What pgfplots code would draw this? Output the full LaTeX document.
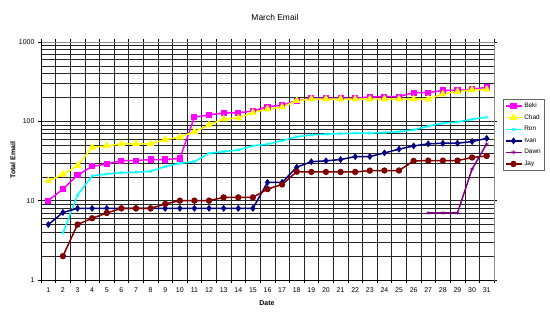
\documentclass[border=0pt]{standalone}
\usepackage{fontspec}
\setmainfont{Liberation Sans}
\usepackage{pgfplots}
\pgfplotsset{compat=1.18}
\definecolor{beki}{HTML}{FF00FF}
\definecolor{chad}{HTML}{FFFF00}
\definecolor{ron}{HTML}{00FFFF}
\definecolor{ivan}{HTML}{000080}
\definecolor{dawn}{HTML}{800080}
\definecolor{jay}{HTML}{800000}
\begin{document}
\begin{tikzpicture}
\path[use as bounding box] (0,0) rectangle (550bp,319bp);
\begin{axis}[
  at={(41bp,39bp)}, anchor=south west, scale only axis,
  width=453bp, height=238bp,
  ymode=log, ymin=1, ymax=1000, xmin=0.5, xmax=31.5,
  xtick={1,...,31},
  minor xtick={0.5,1.5,...,31.5},
  ytick={1,10,100,1000}, yticklabels={1,10,100,1000},
  minor ytick={2,3,4,5,6,7,8,9,20,30,40,50,60,70,80,90,200,300,400,500,600,700,800,900},
  xminorgrids=true, xmajorgrids=false,
  ymajorgrids=true, yminorgrids=true,
  grid style={black!85, line width=0.5bp},
  minor grid style={black!85, line width=0.5bp},
  major x tick style={draw=none},
  minor x tick style={black, line width=0.5bp},
  major y tick style={black, line width=0.5bp},
  minor y tick style={draw=none},
  tick align=outside,
  major tick length=3bp, minor tick length=3bp,
  axis line style={black!45, line width=0.6bp},
  tick label style={font=\fontsize{7}{8}\selectfont},
  /pgf/number format/assume math mode=true,
  xticklabel style={yshift=-1bp},
  clip=false,
  legend style={at={(1.02,0.76)}, anchor=north west,
    font=\fontsize{6.5}{7.5}\selectfont, draw=black!60,
    inner sep=1.5bp, row sep=1.6bp, cells={anchor=west}},
  legend image code/.code={\draw[mark repeat=2,mark phase=2] plot coordinates {(0bp,0bp)(8bp,0bp)(16bp,0bp)};},
  every axis plot/.append style={line width=1.5bp},
]
\addplot[beki, mark=square*, mark size=2.3bp] coordinates {
(1,10)(2,14)(3,21)(4,27)(5,29)(6,32)(7,32)(8,33)(9,33)(10,34)(11,113)(12,120)(13,128)(14,128)(15,135)(16,153)(17,160)(18,182)(19,195)(20,195)(21,195)(22,195)(23,203)(24,205)(25,205)(26,230)(27,230)(28,245)(29,245)(30,254)(31,268)};
\addlegendentry{Beki}
\addplot[chad, mark=triangle*, mark size=3bp] coordinates {
(1,17.7)(2,21.5)(3,27.6)(4,47)(5,49)(6,52)(7,52)(8,52)(9,59)(10,63)(11,74)(12,90)(13,107)(14,110)(15,129)(16,143)(17,151)(18,182)(19,191)(20,191)(21,191)(22,191)(23,191)(24,191)(25,191)(26,191)(27,191)(28,221)(29,237)(30,250)(31,252)};
\addlegendentry{Chad}
\addplot[ron, mark=x, mark size=2bp, mark options={line width=0.6bp}] coordinates {
(2,3.9)(3,11.8)(4,20.5)(5,21.7)(6,22.5)(7,22.8)(8,23.5)(9,26.9)(10,29.6)(11,31)(12,39.6)(13,41.5)(14,43.6)(15,49)(16,51.5)(17,57)(18,64)(19,67.5)(20,69)(21,70)(22,71)(23,71)(24,72)(25,74)(26,78)(27,87)(28,95)(29,98)(30,106)(31,113)};
\addlegendentry{Ron}
\addplot[ivan, mark=diamond*, mark size=2.3bp] coordinates {
(1,5)(2,7.1)(3,8)(4,8)(5,8)(6,8)(7,8)(8,8)(9,8)(10,8)(11,8)(12,8)(13,8)(14,8)(15,8)(16,17)(17,17)(18,26.4)(19,31)(20,31.8)(21,33)(22,35.9)(23,36)(24,40)(25,44.6)(26,49)(27,52)(28,53)(29,53)(30,55.6)(31,61)};
\addlegendentry{Ivan}
\addplot[dawn, mark=asterisk, mark size=2.2bp, mark options={line width=0.5bp}] coordinates {
(27,7)(28,7)(29,7)(30,25)(31,52)};
\addlegendentry{Dawn}
\addplot[jay, mark=*, mark size=2.4bp] coordinates {
(2,2)(3,5)(4,6)(5,7)(6,8)(7,8)(8,8)(9,9.1)(10,10)(11,10)(12,10)(13,11)(14,11)(15,11)(16,14)(17,16)(18,23.2)(19,23)(20,23)(21,23)(22,23)(23,23.9)(24,24)(25,24)(26,31.7)(27,32)(28,32)(29,32)(30,35)(31,36.6)};
\addlegendentry{Jay}
\draw[black, line width=0.6bp] (rel axis cs:0,1) -- (rel axis cs:0,0) -- (rel axis cs:1,0);
\end{axis}
\node[font=\fontsize{8.5}{10}\selectfont] at (275bp,302bp) {March Email};
\node[font=\bfseries\fontsize{7}{8}\selectfont] at (267bp,16bp) {Date};
\node[font=\bfseries\fontsize{7}{8}\selectfont, rotate=90] at (13bp,159bp) {Total Email};
\end{tikzpicture}
\end{document}
